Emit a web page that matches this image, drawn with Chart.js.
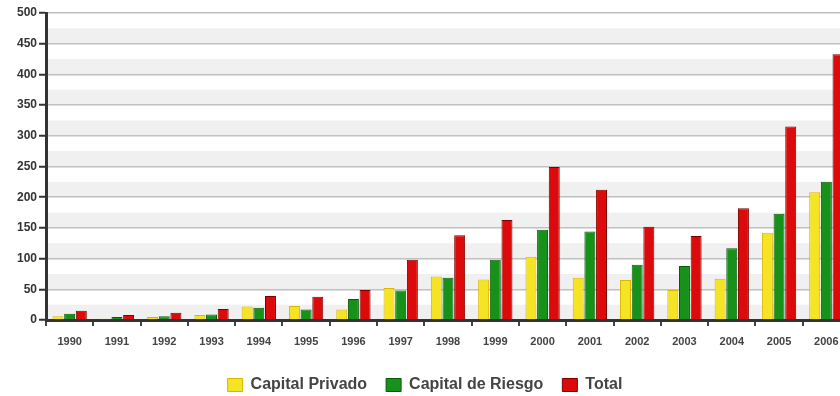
<!DOCTYPE html>
<html>
<head>
<meta charset="utf-8">
<script src="https://cdn.jsdelivr.net/npm/chart.js@4/dist/chart.umd.min.js"></script>
<style>
  html, body { margin: 0; padding: 0; background: #fff; }
  #wrap { width: 840px; height: 396px; overflow: hidden; }
  #box { width: 860px; height: 396px; }
</style>
</head>
<body>
<div id="wrap"><div id="box"><canvas id="c"></canvas></div></div>
<script>
const YEARS = ["1990","1991","1992","1993","1994","1995","1996","1997","1998","1999","2000","2001","2002","2003","2004","2005","2006"];
const PRIVADO = [6, 2, 5, 8, 22, 23, 17, 52, 71, 66, 103, 69, 65, 49, 67, 142, 208];
const RIESGO  = [10, 5, 6, 9, 20, 17, 34, 48, 69, 98, 147, 144, 90, 88, 117, 173, 225];
const TOTAL   = [15, 8, 12, 18, 39, 38, 49, 98, 138, 163, 249, 212, 152, 137, 182, 315, 433];
const Y_MAX = 500, Y_STEP = 25;

const FONT = "'Liberation Sans', Arial, sans-serif";

// alternating light bands every 25 units
const bands = {
  id: 'bands',
  beforeDraw(chart) {
    const { ctx, chartArea: a, scales: { y } } = chart;
    ctx.save();
    ctx.fillStyle = '#f0f0f0';
    for (let v = 0; v < Y_MAX; v += 2 * Y_STEP) {
      const top = y.getPixelForValue(v + Y_STEP), bot = y.getPixelForValue(v);
      ctx.fillRect(a.left, top, a.right - a.left, bot - top);
    }
    ctx.restore();
  }
};

new Chart(document.getElementById('c'), {
  type: 'bar',
  data: {
    labels: YEARS,
    datasets: [
      { label: 'Capital Privado', data: PRIVADO, backgroundColor: '#f5e424', borderColor: '#d9b600', borderWidth: 1 },
      { label: 'Capital de Riesgo', data: RIESGO, backgroundColor: '#17911a', borderColor: '#0a5a0c', borderWidth: 1 },
      { label: 'Total', data: TOTAL, backgroundColor: '#dc0a0a', borderColor: '#7d0000', borderWidth: 1 }
    ]
  },
  options: {
    responsive: true,
    maintainAspectRatio: false,
    animation: false,
    layout: { padding: { top: 13, right: 10, bottom: -7, left: 0 } },
    datasets: { bar: { categoryPercentage: 0.74, barPercentage: 0.94 } },
    plugins: {
      tooltip: { enabled: false },
      legend: {
        position: 'bottom',
        labels: {
          boxWidth: 15, boxHeight: 13, padding: 19,
          color: '#444', font: { family: FONT, size: 16, weight: 'bold' }
        }
      }
    },
    scales: {
      x: {
        offset: true,
        grid: { offset: true, drawOnChartArea: false, drawTicks: true, tickLength: 6, color: '#444', lineWidth: 2 },
        border: { display: true, color: '#333', width: 3 },
        ticks: { color: '#444', padding: 9, maxRotation: 0, autoSkip: false, font: { family: FONT, size: 11, weight: 'bold' } },
        afterFit: s => { s.height = 38; }
      },
      y: {
        min: 0, max: Y_MAX,
        grid: {
          color: '#c0c0c0', lineWidth: 1.5, tickLength: 7,
          tickColor: ctx => (ctx.tick && ctx.tick.value % 50 === 0) ? '#333' : 'rgba(0,0,0,0)',
          tickWidth: 2
        },
        border: { display: true, color: '#333', width: 3 },
        ticks: {
          stepSize: Y_STEP, padding: 2, color: '#333',
          font: { family: FONT, size: 12, weight: 'bold' },
          callback: v => (v % 50 === 0 ? v : '')
        },
        afterFit: s => { s.width = 46; }
      }
    }
  },
  plugins: [bands]
});
</script>
</body>
</html>
